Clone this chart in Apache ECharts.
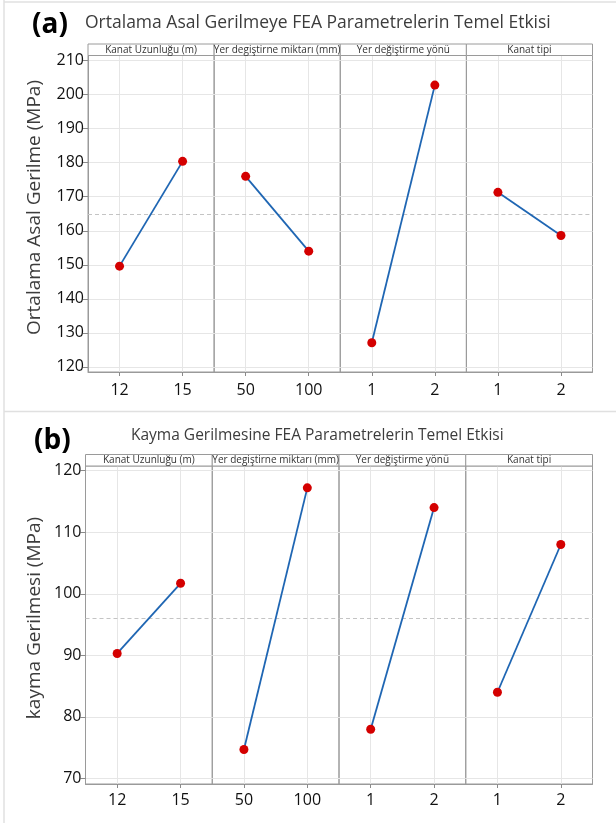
<!DOCTYPE html>
<html><head><meta charset="utf-8">
<script src="https://cdn.jsdelivr.net/npm/echarts@6/dist/echarts.min.js"></script>
<style>html,body{margin:0;padding:0;background:#fff}#c{width:616px;height:823px}</style>
</head><body><div id="c"></div>
<script>
// ---------- data ----------
const factorNames = ['Kanat Uzunluğu (m)', 'Yer degiştirne miktarı (mm)', 'Yer değiştirme yönü', 'Kanat tipi'];
const levelsKanatUzunlugu = ['12', '15'];
const levelsYerDegistirmeMiktari = ['50', '100'];
const levelsYerDegistirmeYonu = ['1', '2'];
const levelsKanatTipi = ['1', '2'];

const asalKanatUzunlugu = [149.6, 180.4];
const asalYerDegistirmeMiktari = [176.0, 154.0];
const asalYerDegistirmeYonu = [127.1, 202.8];
const asalKanatTipi = [171.3, 158.6];
const asalMean = 165;
const asalTicks = [120, 130, 140, 150, 160, 170, 180, 190, 200, 210];

const kaymaKanatUzunlugu = [90.3, 101.7];
const kaymaYerDegistirmeMiktari = [74.7, 117.2];
const kaymaYerDegistirmeYonu = [78.0, 114.0];
const kaymaKanatTipi = [84.0, 108.0];
const kaymaMean = 96;
const kaymaTicks = [70, 80, 90, 100, 110, 120];

const titleA = 'Ortalama Asal Gerilmeye FEA Parametrelerin Temel Etkisi';
const titleB = 'Kayma Gerilmesine FEA Parametrelerin Temel Etkisi';
const yNameA = 'Ortalama Asal Gerilme (MPa)';
const yNameB = 'kayma Gerilmesi (MPa)';

// ---------- layout ----------
const FONT = '"Open Sans", "Noto Sans", sans-serif';
const levels = [levelsKanatUzunlugu, levelsYerDegistirmeMiktari, levelsYerDegistirmeYonu, levelsKanatTipi];
const rows = [
  { left: 88, right: 592.5, top: 55.5, bottom: 372, yMin: 118.5, yMax: 211.5,
    ticks: asalTicks, mean: asalMean, name: yNameA, nameX: 35, nameY: 207.5, labelMargin: 10,
    values: [asalKanatUzunlugu, asalYerDegistirmeMiktari, asalYerDegistirmeYonu, asalKanatTipi] },
  { left: 85.5, right: 592.5, top: 466, bottom: 784, yMin: 69.1, yMax: 120.75,
    ticks: kaymaTicks, mean: kaymaMean, name: yNameB, nameX: 35, nameY: 618, labelMargin: 8,
    values: [kaymaKanatUzunlugu, kaymaYerDegistirmeMiktari, kaymaYerDegistirmeYonu, kaymaKanatTipi] }
];
const stripH = 11.5;

const grid = [], xAxis = [], yAxis = [], series = [], graphic = [];
let k = 0;
rows.forEach((row, r) => {
  const w = (row.right - row.left) / 4;
  for (let i = 0; i < 4; i++) {
    const left = row.left + i * w;
    grid.push({ left: left, top: row.top, width: w, height: row.bottom - row.top,
      show: true, borderColor: '#9a9a9a', borderWidth: 1, containLabel: false });
    xAxis.push({ type: 'category', gridIndex: k, data: levels[i], boundaryGap: true,
      axisLine: { show: true, lineStyle: { color: '#9a9a9a', width: 1 } },
      axisTick: { show: true, alignWithLabel: true, length: 4, lineStyle: { color: '#8a8a8a' } },
      axisLabel: { show: true, interval: 0, fontSize: 16, color: '#111', fontFamily: FONT, margin: row.labelMargin },
      splitLine: { show: true, alignWithLabel: true, lineStyle: { color: '#e6e6e6', width: 1 } } });
    const first = i === 0;
    yAxis.push({ type: 'value', gridIndex: k, min: row.yMin, max: row.yMax,
      axisLine: { show: first, lineStyle: { color: '#9a9a9a' } },
      axisTick: { show: first, length: 5, customValues: row.ticks, lineStyle: { color: '#8a8a8a' } },
      axisLabel: { show: first, customValues: row.ticks, fontSize: 16, color: '#111', fontFamily: FONT, margin: 4 },
      splitLine: { show: true, lineStyle: { color: '#e6e6e6', width: 1 } } });
    series.push({ type: 'line', xAxisIndex: k, yAxisIndex: k, data: row.values[i],
      symbol: 'circle', symbolSize: 9, z: 5,
      itemStyle: { color: '#d40000', borderWidth: 0 },
      lineStyle: { color: '#1f66b3', width: 1.8 },
      emphasis: { disabled: true },
      markLine: { silent: true, symbol: 'none', animation: false,
        label: { show: false },
        lineStyle: { color: '#c4c4c4', type: [4, 3], width: 1.2 },
        data: [{ yAxis: row.mean }] } });
    // strip header
    graphic.push({ type: 'rect', shape: { x: left, y: row.top - stripH, width: w, height: stripH },
      style: { fill: '#fff', stroke: '#9a9a9a', lineWidth: 1 }, z: 10 });
    graphic.push({ type: 'text', x: left + w / 2, y: row.top - stripH / 2,
      style: { text: factorNames[i], fill: '#333', font: '10px ' + FONT, align: 'center', verticalAlign: 'middle' }, z: 11 });
    k++;
  }
  // y axis title
  graphic.push({ type: 'text', x: row.nameX, y: row.nameY, rotation: Math.PI / 2,
    style: { text: row.name, fill: '#3c3c3c', font: '19px ' + FONT, align: 'center', verticalAlign: 'middle' }, z: 11 });
});

// page frames
graphic.push({ type: 'line', shape: { x1: 4, y1: 0, x2: 4, y2: 823 }, style: { stroke: '#e0e0e0', lineWidth: 1.5 } });
graphic.push({ type: 'line', shape: { x1: 4, y1: 2, x2: 616, y2: 2 }, style: { stroke: '#e0e0e0', lineWidth: 1.5 } });
graphic.push({ type: 'line', shape: { x1: 4, y1: 411.5, x2: 616, y2: 411.5 }, style: { stroke: '#e0e0e0', lineWidth: 1.5 } });

const title = [
  { text: '(a)', left: 27, top: 6, textStyle: { fontSize: 28, fontWeight: 'bold', color: '#000', fontFamily: FONT } },
  { text: titleA, left: 80, top: 9, textStyle: { fontSize: 17.5, fontWeight: 'normal', color: '#3c3c3c', fontFamily: FONT } },
  { text: '(b)', left: 29, top: 422, textStyle: { fontSize: 28, fontWeight: 'bold', color: '#000', fontFamily: FONT } },
  { text: titleB, left: 126, top: 423, textStyle: { fontSize: 15.5, fontWeight: 'normal', color: '#3c3c3c', fontFamily: FONT } }
];

const chart = echarts.init(document.getElementById('c'), null, { renderer: 'canvas' });
chart.setOption({ animation: false, backgroundColor: '#fff', title, grid, xAxis, yAxis, series, graphic });
</script></body></html>
